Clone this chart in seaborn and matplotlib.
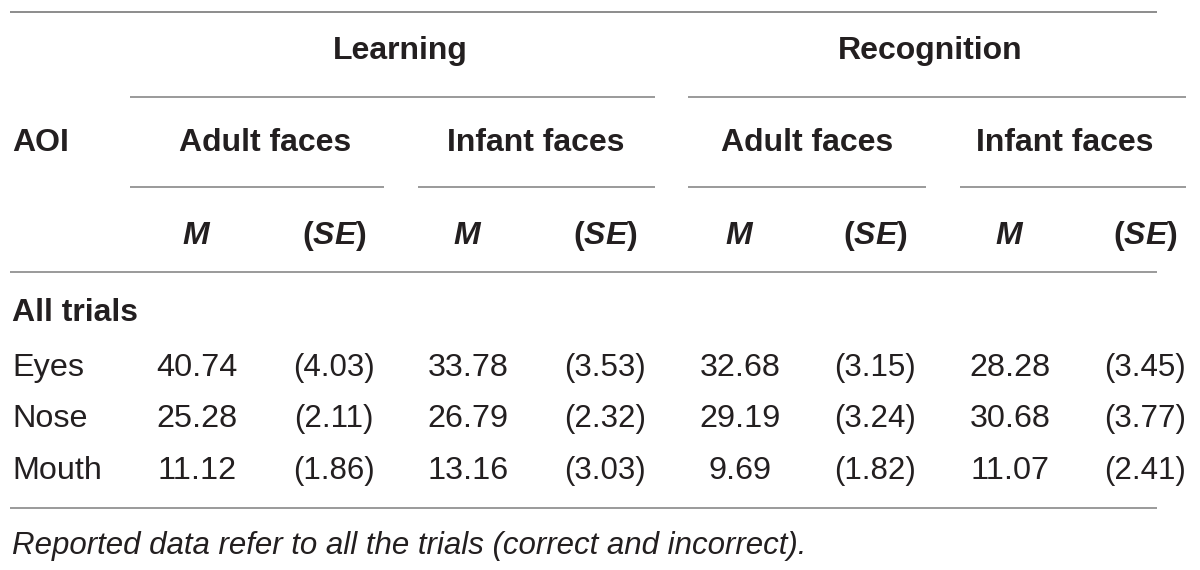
import matplotlib
matplotlib.use("Agg")
import matplotlib.pyplot as plt
import seaborn as sns

# table content
phases = ["Learning", "Recognition"]
face_types = ["Adult faces", "Infant faces", "Adult faces", "Infant faces"]
stat_labels = ["M", "(SE)"]
section_label = "All trials"
aois = ["Eyes", "Nose", "Mouth"]
means = [
    [40.74, 33.78, 32.68, 28.28],
    [25.28, 26.79, 29.19, 30.68],
    [11.12, 13.16, 9.69, 11.07],
]
ses = [
    [4.03, 3.53, 3.15, 3.45],
    [2.11, 2.32, 3.24, 3.77],
    [1.86, 3.03, 1.82, 2.41],
]
footnote = "Reported data refer to all the trials (correct and incorrect)."

# layout (pixel coordinates)
W, H = 1200, 570
col_x = [197, 334, 468, 605, 740, 875, 1010, 1145]
span_x = [(130, 384), (418, 655), (688, 926), (960, 1186)]
phase_x = [(130, 655), (688, 1186)]
phase_cx = [400, 930]
face_cx = [265, 536, 807, 1065]
row_y = [368, 419, 471]
text_c = "#231f20"
rule_c = "#9a9a9a"

sns.set_theme(style="white")
plt.rcParams["font.family"] = ["Liberation Sans", "DejaVu Sans"]
plt.rcParams["mathtext.fontset"] = "custom"
plt.rcParams["mathtext.rm"] = "Liberation Sans"
plt.rcParams["mathtext.bf"] = "Liberation Sans:bold"
plt.rcParams["mathtext.it"] = "Liberation Sans:italic"
plt.rcParams["mathtext.bfit"] = "Liberation Sans:bold:italic"

fig = plt.figure(figsize=(W / 100, H / 100), dpi=100)
ax = fig.add_axes([0, 0, 1, 1])
ax.set_xlim(0, W)
ax.set_ylim(H, 0)
ax.axis("off")

fs_head = 23
fs_body = 23.3
fs_note = 22.5

# rules
for y in (12, 272, 508):
    ax.plot([10, 1157], [y, y], color="#8c8c8c" if y == 12 else rule_c, lw=1.4,
            solid_capstyle="butt")
for x0, x1 in phase_x:
    ax.plot([x0, x1], [97, 97], color=rule_c, lw=1.4, solid_capstyle="butt")
for x0, x1 in span_x:
    ax.plot([x0, x1], [187, 187], color=rule_c, lw=1.4, solid_capstyle="butt")

# header
for cx, name in zip(phase_cx, phases):
    ax.text(cx, 51, name, ha="center", va="center", fontsize=fs_head,
            fontweight="bold", color=text_c)
ax.text(12, 143, "AOI", ha="left", va="center", fontsize=fs_head, fontweight="bold",
        color=text_c)
for cx, name in zip(face_cx, face_types):
    ax.text(cx, 143, name, ha="center", va="center", fontsize=fs_head,
            fontweight="bold", color=text_c)
for j, x in enumerate(col_x):
    lab = stat_labels[j % 2]
    txt = r"$\mathbfit{M}$" if lab == "M" else r"$\mathbf{(}\mathbfit{SE}\mathbf{)}$"
    ax.text(x, 236, txt, ha="center", va="center", fontsize=fs_head, color=text_c)

# body
ax.text(12, 313, section_label, ha="left", va="center", fontsize=fs_head,
        fontweight="bold", color=text_c)
for r, (name, y) in enumerate(zip(aois, row_y)):
    ax.text(12, y, name, ha="left", va="center", fontsize=fs_body, color=text_c)
    for g in range(4):
        ax.text(col_x[2 * g], y, f"{means[r][g]:.2f}", ha="center", va="center",
                fontsize=fs_body, color=text_c)
        ax.text(col_x[2 * g + 1], y, f"({ses[r][g]:.2f})", ha="center", va="center",
                fontsize=fs_body - 0.8, color=text_c)

ax.text(12, 546, footnote, ha="left", va="center", fontsize=fs_note,
        fontstyle="italic", color=text_c)

fig.savefig("out.png", dpi=100)
